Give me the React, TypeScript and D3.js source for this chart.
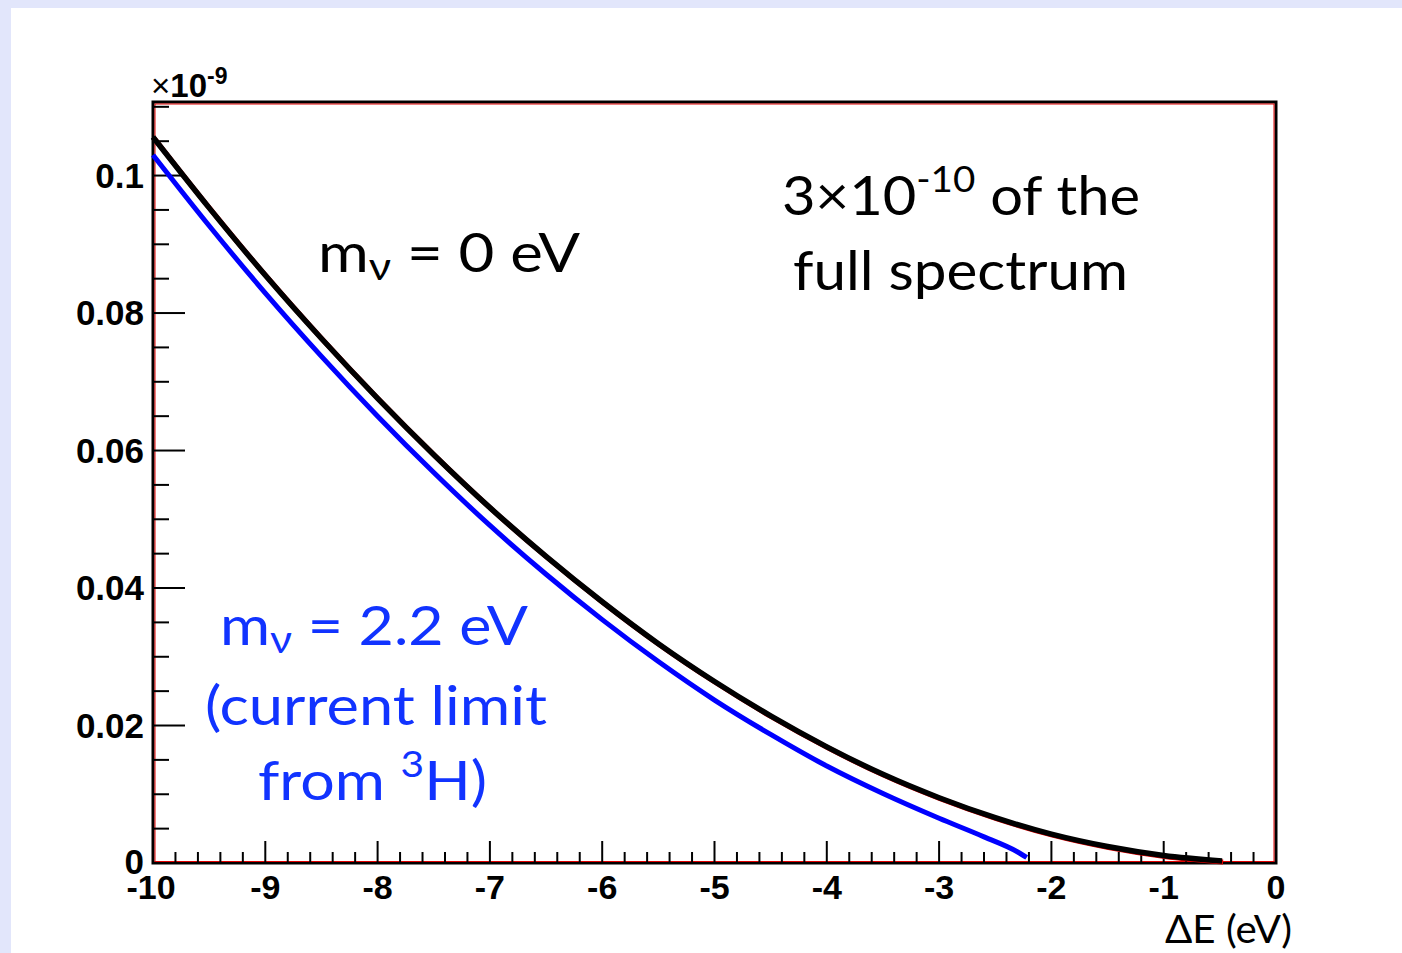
import React from "react";
import * as d3 from "d3";

// Beta spectrum endpoint region (counts scaled by 1e-9) vs. ΔE in eV
const deltaE0 = [-10, -9.5, -9, -8.5, -8, -7.5, -7, -6.5, -6, -5.5, -5, -4.5, -4, -3.5, -3, -2.5, -2, -1.5, -1, -0.48];
const rateMassless = [0.1056, 0.0953, 0.0855, 0.0763, 0.0676, 0.0594, 0.0517, 0.0446, 0.038, 0.0319, 0.0264, 0.0214, 0.0169, 0.0129, 0.0095, 0.0066, 0.0042, 0.0024, 0.0011, 0.0003];

const deltaE22 = [-10, -9.5, -9, -8.5, -8, -7.5, -7, -6.5, -6, -5.5, -5, -4.5, -4, -3.5, -3, -2.6, -2.3, -2.22];
const rateMassive = [0.103, 0.0927, 0.0829, 0.0737, 0.065, 0.0568, 0.0491, 0.042, 0.0354, 0.0293, 0.0237, 0.0187, 0.0141, 0.0101, 0.0065, 0.0038, 0.0016, 0.0008];

const xMajorTicks = [-10, -9, -8, -7, -6, -5, -4, -3, -2, -1, 0];
const yMajorTicks = [0, 0.02, 0.04, 0.06, 0.08, 0.1];
const yTickLabels = ["0", "0.02", "0.04", "0.06", "0.08", "0.1"];

const W = 1402;
const H = 953;
const left = 153;
const right = 1276;
const top = 102;
const bottom = 863;

const x = d3.scaleLinear().domain([-10, 0]).range([left, right]);
const y = d3.scaleLinear().domain([0, 0.1107]).range([bottom, top]);

const line = d3
  .line<[number, number]>()
  .x((d) => x(d[0]))
  .y((d) => y(d[1]))
  .curve(d3.curveMonotoneX);

const masslessPts: [number, number][] = deltaE0.map((e, i) => [e, rateMassless[i]]);
const massivePts: [number, number][] = deltaE22.map((e, i) => [e, rateMassive[i]]);

const xMinor = d3.range(-10, 0.001, 0.2).map((v) => Math.round(v * 10) / 10);
const yMinor = d3.range(0, 0.1101, 0.005).map((v) => Math.round(v * 1000) / 1000);

const axisFont = "'Liberation Sans', Arial, Helvetica, sans-serif";
const textFont = "Lato, 'Open Sans', sans-serif";

export default function App() {
  return (
    <svg
      width={W}
      height={H}
      style={{ position: "absolute", left: 0, top: 0, display: "block" }}
    >
      <rect x={0} y={0} width={W} height={H} fill="#e2e6fb" />
      <rect x={11} y={8} width={W - 11} height={H - 8} fill="#ffffff" />

      {/* frame */}
      <rect
        x={left}
        y={top}
        width={right - left}
        height={bottom - top}
        fill="none"
        stroke="#000"
        strokeWidth={3}
      />
      <rect
        x={left + 2}
        y={top + 2}
        width={right - left - 4}
        height={bottom - top - 3.5}
        fill="none"
        stroke="#e00000"
        strokeWidth={1}
      />

      {/* x ticks */}
      {xMinor.map((v) => {
        const major = Math.abs(v - Math.round(v)) < 1e-6;
        return (
          <line
            key={"xt" + v}
            x1={x(v)}
            x2={x(v)}
            y1={bottom}
            y2={bottom - (major ? 22 : 11)}
            stroke="#000"
            strokeWidth={2}
          />
        );
      })}
      {/* y ticks */}
      {yMinor.map((v) => {
        const major = Math.abs(v * 50 - Math.round(v * 50)) < 1e-6;
        return (
          <line
            key={"yt" + v}
            x1={left}
            x2={left + (major ? 32 : 16)}
            y1={y(v)}
            y2={y(v)}
            stroke="#000"
            strokeWidth={2}
          />
        );
      })}

      {/* x tick labels */}
      {xMajorTicks.map((v) => (
        <text
          key={"xl" + v}
          x={x(v) - (v === -10 ? 2 : 0)}
          y={899}
          textAnchor="middle"
          fontFamily={axisFont}
          fontWeight="bold"
          fontSize={34}
        >
          {String(v)}
        </text>
      ))}
      {/* y tick labels */}
      {yMajorTicks.map((v, i) => (
        <text
          key={"yl" + v}
          x={144}
          y={y(v) + 12 + (v === 0 ? -1 : 0)}
          textAnchor="end"
          fontFamily={axisFont}
          fontWeight="bold"
          fontSize={35}
        >
          {yTickLabels[i]}
        </text>
      ))}

      {/* exponent */}
      <text x={151} y={97} fontFamily={axisFont} fontSize={33}>
        <tspan fontWeight="normal">×</tspan>
        <tspan fontWeight="bold">10</tspan>
        <tspan fontWeight="bold" fontSize={23} dy={-13}>
          -9
        </tspan>
      </text>

      {/* curves */}
      <path
        d={line(masslessPts) || ""}
        fill="none"
        stroke="#e00000"
        strokeWidth={5}
        transform="translate(1,1)"
      />
      <path d={line(massivePts) || ""} fill="none" stroke="#0000ff" strokeWidth={5} />
      <path d={line(masslessPts) || ""} fill="none" stroke="#000" strokeWidth={5.5} />

      {/* axis title */}
      <text
        x={1165}
        y={943}
        fontFamily={textFont}
        fontSize={39}
        textLength={127}
        lengthAdjust="spacingAndGlyphs"
      >
        ΔE (eV)
      </text>

      {/* annotations */}
      <text
        x={318}
        y={272}
        fontFamily={textFont}
        fontSize={54}
        textLength={262}
        lengthAdjust="spacingAndGlyphs"
      >
        m<tspan fontSize={38} dy={8}>ν</tspan>
        <tspan dy={-8}> = 0 eV</tspan>
      </text>

      <text
        x={782}
        y={215}
        fontFamily={textFont}
        fontSize={54}
        textLength={358}
        lengthAdjust="spacingAndGlyphs"
      >
        3×10<tspan fontSize={36} dy={-23}>-10</tspan>
        <tspan dy={23}> of the</tspan>
      </text>
      <text
        x={793}
        y={290}
        fontFamily={textFont}
        fontSize={54}
        textLength={335}
        lengthAdjust="spacingAndGlyphs"
      >
        full spectrum
      </text>

      <g fill="#1133ff" fontFamily={textFont} fontSize={54}>
        <text x={220} y={645} textLength={308} lengthAdjust="spacingAndGlyphs">
          m<tspan fontSize={38} dy={8}>ν</tspan>
          <tspan dy={-8}> = 2.2 eV</tspan>
        </text>
        <text x={205} y={725} textLength={342} lengthAdjust="spacingAndGlyphs">
          (current limit
        </text>
        <text x={258} y={800} textLength={229} lengthAdjust="spacingAndGlyphs">
          from <tspan fontSize={36} dy={-23}>3</tspan>
          <tspan dy={23}>H)</tspan>
        </text>
      </g>
    </svg>
  );
}
